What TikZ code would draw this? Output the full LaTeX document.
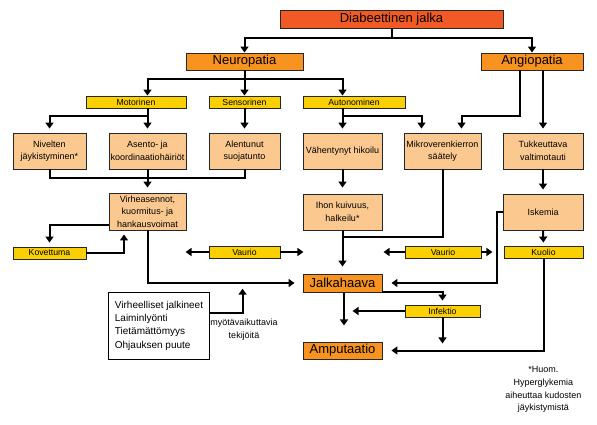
\documentclass[tikz,border=0pt]{standalone}
\usepackage{fontspec}
\setmainfont{Liberation Sans}
\usetikzlibrary{arrows.meta,calc}
\definecolor{cTop}{HTML}{F15A24}
\definecolor{cOr}{HTML}{F7931E}
\definecolor{cYe}{HTML}{FAD000}
\definecolor{cPe}{HTML}{FBC98F}
\begin{document}
\begin{tikzpicture}[x=1pt,y=-1pt,
  ln/.style={line width=2pt},
  arr/.style={line width=2pt,-{Triangle[width=8pt,length=6pt]}},
  sh/.style={shorten >=#1},
  bx/.style={draw=black!85,line width=0.9pt,inner sep=0pt,text=black},
  big/.style={bx,font=\fontsize{13}{15}\selectfont},
  topbox/.style={big,fill=cTop},
  orgbox/.style={big,fill=cOr},
  yelbox/.style={bx,fill=cYe,font=\fontsize{8.7}{10}\selectfont},
  pchbox/.style={bx,fill=cPe,align=center,font=\fontsize{9}{12.5}\selectfont},
  note/.style={align=center,font=\fontsize{9}{12.7}\selectfont},
]
\useasboundingbox (0,0) rectangle (597,424);

% ---- nodes
\node[topbox,minimum width=223pt,minimum height=18pt] (dj) at (391.5,19) {Diabeettinen jalka};
\node[orgbox,minimum width=117pt,minimum height=17pt] (np) at (244.5,61.5) {Neuropatia};
\node[orgbox,minimum width=102pt,minimum height=17pt] (ap) at (532,61.5) {Angiopatia};

\node[yelbox,minimum width=100pt,minimum height=12pt] (mo) at (136,102) {Motorinen};
\node[yelbox,minimum width=71pt,minimum height=12pt] (sn) at (244.5,102) {Sensorinen};
\node[yelbox,minimum width=102pt,minimum height=12pt] (au) at (354,102) {Autonominen};

\node[pchbox,minimum width=73pt,minimum height=36pt] (ni) at (49.5,151) {Nivelten\\jäykistyminen*};
\node[pchbox,minimum width=77pt,minimum height=36pt] (as) at (147.5,151) {Asento- ja\\koordinaatiohäiriöt};
\node[pchbox,minimum width=71pt,minimum height=36pt] (al) at (244.5,151) {Alentunut\\suojatunto};
\node[pchbox,minimum width=79pt,minimum height=36pt] (vh) at (342.5,151) {Vähentynyt hikoilu};
\node[pchbox,minimum width=77pt,minimum height=36pt] (mk) at (442.5,151) {Mikroverenkierron\\säätely};
\node[pchbox,minimum width=80pt,minimum height=36pt] (tk) at (543,151) {Tukkeuttava\\valtimotauti};

\node[pchbox,minimum width=77pt,minimum height=37pt] (vi) at (147.5,211.5) {Virheasennot,\\kuormitus- ja\\hankausvoimat};
\node[pchbox,minimum width=79pt,minimum height=36pt] (ih) at (342.5,212) {Ihon kuivuus,\\halkeilu*};
\node[pchbox,minimum width=80pt,minimum height=36pt] (is) at (543,212) {Iskemia};

\node[yelbox,minimum width=73pt,minimum height=12pt] (ko) at (49.5,253) {Kovettuma};
\node[yelbox,minimum width=71pt,minimum height=12pt] (va1) at (244.5,252) {Vaurio};
\node[yelbox,minimum width=76pt,minimum height=12pt] (va2) at (443,252) {Vaurio};
\node[yelbox,minimum width=79pt,minimum height=12pt] (ku) at (543.5,252) {Kuolio};

\node[orgbox,minimum width=79pt,minimum height=18pt] (jk) at (342.5,283) {Jalkahaava};
\node[yelbox,minimum width=75pt,minimum height=12pt] (in) at (442.5,311) {Infektio};
\node[orgbox,minimum width=79pt,minimum height=17pt] (am) at (342.5,350.5) {Amputaatio};

\node[draw=black,line width=0.9pt,inner xsep=6pt,inner ysep=0pt,minimum width=100pt,
      minimum height=67pt,align=left,font=\fontsize{10}{13.3}\selectfont] (fb) at (159,325.5)
  {Virheelliset jalkineet\\Laiminlyönti\\Tietämättömyys\\Ohjauksen puute};

\node[note] (mv) at (244,330) {myötävaikuttavia\\tekijöitä};
\node[note] (hu) at (543.3,389.5) {*Huom.\\Hyperglykemia\\aiheuttaa kudosten\\jäykistymistä};

% ---- level coordinates
\coordinate (y0) at (0,38);
\coordinate (y1) at (0,79);
\coordinate (y2) at (0,116);
\coordinate (y3) at (0,178);
\coordinate (y5) at (0,237);
\coordinate (xk) at (124,0);
\coordinate (xi) at (497,0);
\coordinate (ap1) at ($(ap.south)+(-12,0)$);
\coordinate (m1) at ($(mk.north)+(19,0)$);
\coordinate (v1) at ($(vi.west)+(0,13.5)$);
\coordinate (f0) at ($(fb.east)+(0,-12.8)$);

% ---- connectors
\draw[ln] (dj.south) -- (dj.south|-y0);
\draw[arr] (dj.south|-y0) -| (np.north);
\draw[arr] (dj.south|-y0) -| (ap.north);

\draw[arr] (np.south) -- (sn.north);
\draw[arr] (np.south|-y1) -| (as.north|-mo.north);
\draw[arr] (np.south|-y1) -| (vh.north|-au.north);

\draw[ln] (as.north|-mo.south) -- (as.north|-y2);
\draw[arr,sh=4pt] (as.north|-y2) -| (ni.north);
\draw[arr,sh=4pt] (as.north|-y2) -- (as.north);
\draw[arr,sh=4pt] (sn.south) -- (al.north);
\draw[arr,sh=4pt] (vh.north|-au.south) -- (vh.north);
\draw[arr,sh=4pt] (vh.north|-y2) -| ($(mk.north)+(-21,0)$);
\draw[arr,sh=4pt] (ap1) -- (ap1|-y2) -| (m1);
\draw[arr,sh=4pt] (tk.north|-ap.south) -- (tk.north);

\draw[ln] (ni.south) -- (ni.south|-y3) -| (al.south);
\draw[arr,sh=5pt] (as.south) -- (vi.north);
\draw[arr,sh=4pt] (v1) -| (ko.north);
\draw[arr,sh=4pt] (ko.east) -| (xk|-vi.south);
\draw[arr,sh=8pt] (vi.south) |- (jk.west);

\draw[arr] (va1.west) -- ++(-23,0);
\draw[arr] (va1.east) -- ++(23,0);
\draw[arr] (va2.west) -- ++(-21,0);
\draw[arr] (va2.east) -- ++(11,0);

\draw[arr,sh=6pt] (vh.south) -- (ih.north);
\draw[arr,sh=7pt] (ih.south) -- (jk.north);
\draw[ln] (mk.south) |- (ih.south|-y5);
\draw[arr,sh=4pt] (tk.south) -- (is.north);
\draw[arr,sh=9pt] (is.west) -- (xi|-is.west) -- (xi|-jk.east) -- (jk.east);
\draw[arr,sh=3pt] (is.south) -- (ku.north);
\draw[arr,sh=9pt] (ku.south) |- (am.east);

\draw[arr,sh=4pt] (jk.south east) -| (in.north);
\draw[arr] (in.west) -- ++(-52,0);
\draw[arr] (in.south) -- ++(0,26);
\draw[arr] ($(jk.south)+(1.5,0)$) -- ++(0,33);
\draw[arr] (f0) -| ++(33,-24);
\end{tikzpicture}
\end{document}
